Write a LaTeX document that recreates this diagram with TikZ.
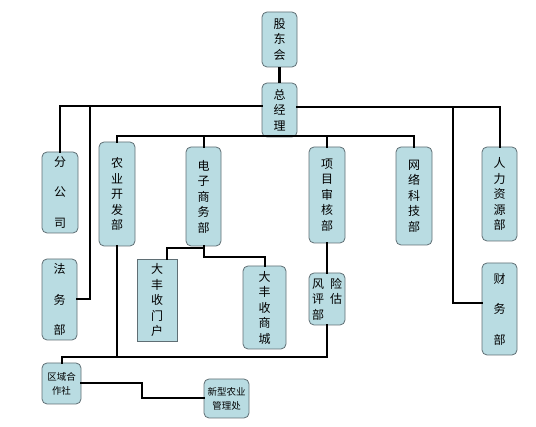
\documentclass[tikz,border=0pt]{standalone}
\usepackage{fontspec}
\setmainfont{Noto Sans CJK SC}
\usepackage{tikz}
\usetikzlibrary{calc,positioning}
\usepackage{xcolor}
\definecolor{boxfill}{RGB}{185,220,226}
\definecolor{boxline}{RGB}{95,110,116}

\begin{document}
\begin{tikzpicture}[
    x=1pt,y=-1pt,
    every node/.style={font=\fontsize{12}{15.5}\selectfont},
    unit/.style={rectangle,draw=boxline,line width=0.8pt,fill=boxfill,rounded corners=5pt,
                inner sep=0pt,align=center},
    lift/.style={execute at end node={\\[#1]\mbox{}}},
    small/.style={font=\fontsize{9.5}{14}\selectfont},
    link/.style={line width=2pt,line cap=rect}
  ]
    \useasboundingbox (0,0) rectangle (536,427);
    \node[unit,minimum width=35,minimum height=55] (gdh) at (279.5,39.5) {股\\东\\会};
    \node[unit,lift=-10pt,minimum width=35,minimum height=54] (zjl) at (279.5,110) {总\\经\\理};
    \node[unit,minimum width=36,minimum height=81] (fgs) at (60,192.5) {分\\[15pt]公\\[15pt]司};
    \node[unit,lift=4.5pt,minimum width=36,minimum height=104] (nykf) at (117,194) {农\\业\\开\\发\\部};
    \node[unit,lift=-2.5pt,minimum width=35,minimum height=99] (dzsw) at (203.5,196.5) {电\\子\\商\\务\\部};
    \node[unit,lift=-3.5pt,minimum width=36,minimum height=96] (xmsh) at (327,195) {项\\目\\审\\核\\部};
    \node[unit,lift=-1.5pt,minimum width=36,minimum height=98] (wlkj) at (414,196) {网\\络\\科\\技\\部};
    \node[unit,lift=-4.5pt,minimum width=35,minimum height=94] (rlzy) at (499.5,194) {人\\力\\资\\源\\部};
    \node[unit,minimum width=35,minimum height=81] (fwb) at (59.5,299.5) {法\\[15pt]务\\[15pt]部};
    \node[unit,minimum width=35,minimum height=92] (cwb) at (499.5,309) {财\\[15pt]务\\[15pt]部};
    \node[unit,rounded corners=0pt,minimum width=40,minimum height=82] (dfsmh) at (157,300) {大\\丰\\收\\门\\户};
    \node[unit,minimum width=43,minimum height=83] (dfssc) at (264.5,307.5) {大\\丰\\收\\商\\城};
    \node[unit,align=left,minimum width=36,minimum height=52] (fxpg) at (327,299) {风\hspace{0.5em}险\\评\hspace{0.5em}估\\部\hspace{1.5em}};
    \node[unit,small,minimum width=39,minimum height=41] (qyhz) at (61.5,383.5) {区域合\\作社};
    \node[unit,small,minimum width=45,minimum height=39] (xxny) at (226.5,398.5) {新型农业\\管理处};

    \coordinate (j1) at (90,106);
    \coordinate (j2) at (453,107);
    \coordinate (b1) at (117,136);
    \coordinate (b2) at (414,136);
    \coordinate (b3) at (327,357);

    \draw[line width=3.5pt] (gdh) -- (zjl);
    \draw[link] ([yshift=4pt]zjl.west) -| (fgs.north);
    \draw[link] (j1) |- (fwb.east);
    \draw[link] ([yshift=3pt]zjl.east) -| (rlzy.north);
    \draw[link] (j2) |- ([yshift=6pt]cwb.west);
    \draw[link] (nykf.north) -- (b1) -- (b2) -- (wlkj.north);
    \draw[link] (dzsw.north) -- (dzsw.north |- b1);
    \draw[link] (xmsh.north) -- (xmsh.north |- b1);
    \draw[link] (dzsw.south) -- ++(0,2) -| ([xshift=10pt]dfsmh.north);
    \draw[link] (dzsw.south) -- ++(0,11) -| (dfssc.north);
    \draw[link] (xmsh.south) -- (fxpg.north);
    \draw[link] (fxpg.south) -- (b3) -| (qyhz.north);
    \draw[link] (nykf.south) -- (nykf.south |- b3);
    \draw[link] (qyhz.east) -- ++(61,0) |- (xxny.west);
  \end{tikzpicture}
\end{document}
